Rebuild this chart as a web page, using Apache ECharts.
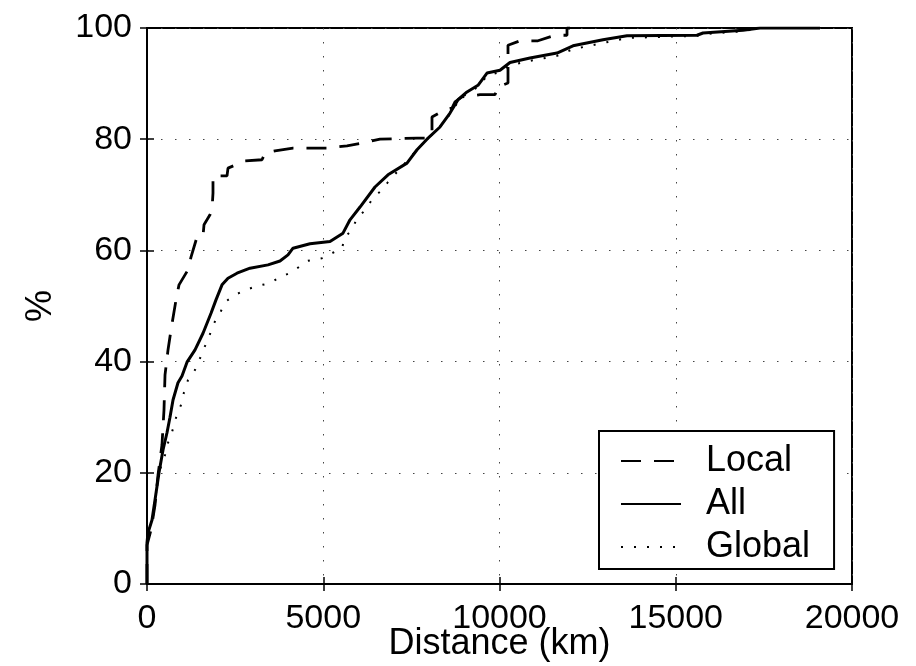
<!DOCTYPE html>
<html>
<head>
<meta charset="utf-8">
<script src="https://cdn.jsdelivr.net/npm/echarts@6/dist/echarts.min.js"></script>
<style>
html,body{margin:0;padding:0;background:#fff;}
#chart{width:916px;height:666px;}
</style>
</head>
<body>
<div id="chart"></div>
<script>
// ---- Data ----
var xTicks = [0, 5000, 10000, 15000, 20000];
var yTicks = [0, 20, 40, 60, 80, 100];
var seriesNames = ['Local', 'All', 'Global'];

var localX = [0, 0, 113, 227, 312, 425, 482, 511, 596, 681, 823, 908, 1163, 1248, 1418, 1589, 1617, 1787, 1844, 1872, 1872, 2270, 2298, 2780, 3262, 3347, 3631, 4142, 5107, 5674, 6099, 6610, 7660, 8000, 8085, 8085, 8454, 8652, 8738, 8936, 9447, 9872, 9957, 10241, 10241, 10582, 11092, 11574, 11915, 11915, 12000];
var localY = [0, 7, 9.7, 14.2, 19.6, 25, 31.3, 37.6, 42.1, 45.7, 51.1, 53.8, 56.5, 58.8, 62.4, 62.6, 64.6, 66.4, 67.3, 70.3, 73.4, 73.4, 74.8, 76.1, 76.3, 77.5, 77.9, 78.4, 78.4, 78.8, 79.3, 80.0, 80.2, 80.2, 81.1, 84.0, 85.3, 85.6, 86.7, 87.6, 88.0, 88.0, 89.4, 90.1, 96.9, 97.7, 97.7, 98.7, 98.7, 100, 100];

var allX = [0, 0, 28, 142, 227, 340, 454, 567, 652, 738, 879, 993, 1135, 1362, 1589, 1816, 1957, 2128, 2298, 2553, 2922, 3433, 3773, 4000, 4142, 4624, 5192, 5560, 5759, 6043, 6468, 6837, 7376, 7660, 7943, 8312, 8596, 8823, 9078, 9390, 9645, 10014, 10298, 10865, 11631, 12085, 12936, 13617, 15603, 15773, 16908, 17390, 19092];
var allY = [0, 7.4, 9.2, 11.5, 15.1, 20, 24.1, 27.2, 30, 33.1, 36.2, 37.4, 39.9, 42.1, 45.1, 48.7, 51.1, 53.8, 55, 55.9, 56.8, 57.4, 58.1, 59.2, 60.4, 61.2, 61.6, 63.1, 65.5, 67.8, 71.4, 73.6, 75.7, 78.1, 80, 82.2, 84.7, 87.1, 88.5, 89.7, 91.9, 92.4, 93.8, 94.6, 95.5, 96.8, 97.9, 98.6, 98.7, 99.1, 99.6, 100, 100];

var globalX = [0, 0, 28, 142, 227, 340, 511, 596, 709, 823, 964, 1050, 1163, 1362, 1504, 1617, 1759, 1872, 2071, 2213, 2496, 2809, 3120, 3489, 3773, 4114, 4539, 4965, 5248, 5532, 5617, 5816, 5958, 6184, 6411, 6667, 6837, 7092, 7319, 7660, 7943, 8312, 8596, 8823, 9078, 9390, 9645, 10014, 10298, 10865, 11631, 12085, 12936, 13617, 15603, 15773, 16908, 17390, 19092];
var globalY = [0, 7.4, 9.2, 11.5, 15.1, 20, 23.2, 25.4, 27.3, 29.9, 32.2, 34.5, 36.7, 38.5, 40.6, 42.4, 44.4, 46.6, 48.7, 50.7, 52, 52.9, 53.6, 54.1, 55.2, 56.1, 58.1, 58.6, 59.5, 60.4, 62.4, 63.7, 65.8, 67.2, 69.4, 70.9, 72.3, 74.1, 75.7, 78.1, 80, 82.2, 84.5, 86.7, 88.3, 89.4, 91.4, 92.1, 93.3, 94.1, 95, 96.2, 97.3, 98.2, 98.6, 98.9, 99.4, 100, 100];

function pairs(xs, ys) {
  return xs.map(function (x, i) { return [x, ys[i]]; });
}

var FONT = '"Liberation Sans", Arial, Helvetica, sans-serif';
var gridLine = { show: true, lineStyle: { color: '#444', width: 1, type: [1.5, 12.5] } };
var plain = function (v) { return String(v); };

var chart = echarts.init(document.getElementById('chart'), null, { renderer: 'canvas' });
chart.setOption({
  animation: false,
  backgroundColor: '#fff',
  textStyle: { fontFamily: FONT, color: '#000' },
  grid: { left: 147, right: 64, top: 28, bottom: 82, containLabel: false, outerBoundsMode: 'none', show: true, borderColor: '#000', borderWidth: 2, backgroundColor: 'transparent' },
  legend: {
    data: seriesNames,
    orient: 'vertical',
    left: 599,
    top: 431,
    padding: [12, 24, 4, 21],
    itemGap: 7,
    itemWidth: 60,
    itemHeight: 20,
    backgroundColor: '#fff',
    borderColor: '#000',
    borderWidth: 2,
    borderRadius: 0,
    itemStyle: { opacity: 0 },
    textStyle: { fontFamily: FONT, fontSize: 36, color: '#000', padding: [0, 0, 0, 20] }
  },
  xAxis: [{
    type: 'value', min: xTicks[0], max: xTicks[xTicks.length - 1], interval: 5000,
    position: 'bottom',
    axisLine: { show: true, lineStyle: { color: '#000', width: 2 } },
    axisTick: { show: true, inside: true, length: 7, lineStyle: { color: '#000', width: 1.5 } },
    axisLabel: { show: true, fontSize: 34, color: '#000', fontFamily: FONT, margin: 18, formatter: plain },
    splitLine: gridLine,
    name: 'Distance (km)', nameLocation: 'middle', nameGap: 42, nameMoveOverlap: false,
    nameTextStyle: { fontSize: 36, color: '#000', fontFamily: FONT }
  }, {
    type: 'value', min: xTicks[0], max: xTicks[xTicks.length - 1], interval: 5000,
    position: 'top',
    axisLine: { show: true, lineStyle: { color: '#000', width: 2 } },
    axisTick: { show: true, inside: true, length: 7, lineStyle: { color: '#000', width: 1.5 } },
    axisLabel: { show: false },
    splitLine: { show: false }
  }],
  yAxis: [{
    type: 'value', min: yTicks[0], max: yTicks[yTicks.length - 1], interval: 20,
    position: 'left',
    axisLine: { show: true, lineStyle: { color: '#000', width: 2 } },
    axisTick: { show: true, inside: true, length: 7, lineStyle: { color: '#000', width: 1.5 } },
    axisLabel: { show: true, fontSize: 34, color: '#000', fontFamily: FONT, margin: 15, formatter: plain },
    splitLine: gridLine,
    name: '%', nameLocation: 'middle', nameGap: 88, nameRotate: 90, nameMoveOverlap: false,
    nameTextStyle: { fontSize: 36, color: '#000', fontFamily: FONT }
  }, {
    type: 'value', min: yTicks[0], max: yTicks[yTicks.length - 1], interval: 20,
    position: 'right',
    axisLine: { show: true, lineStyle: { color: '#000', width: 2 } },
    axisTick: { show: true, inside: true, length: 7, lineStyle: { color: '#000', width: 1.5 } },
    axisLabel: { show: false },
    splitLine: { show: false }
  }],
  series: [{
    name: seriesNames[0], type: 'line', symbol: 'none', showSymbol: false,
    data: pairs(localX, localY),
    itemStyle: { color: '#000' },
    lineStyle: { color: '#000', width: 2.8, type: [20, 13] },
    z: 3
  }, {
    name: seriesNames[1], type: 'line', symbol: 'none', showSymbol: false,
    data: pairs(allX, allY),
    itemStyle: { color: '#000' },
    lineStyle: { color: '#000', width: 3, type: 'solid' },
    z: 4
  }, {
    name: seriesNames[2], type: 'line', symbol: 'none', showSymbol: false,
    data: pairs(globalX, globalY),
    itemStyle: { color: '#000' },
    lineStyle: { color: '#000', width: 2, type: [2, 11] },
    z: 2
  }]
});
</script>
</body>
</html>
